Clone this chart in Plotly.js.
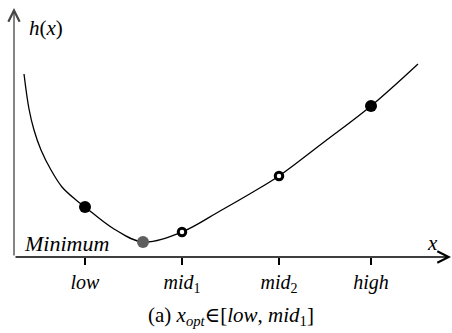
<!DOCTYPE html>
<html>
<head>
<meta charset="utf-8">
<script src="https://cdn.plot.ly/plotly-3.0.1.min.js"></script>
<style>
  html, body { margin: 0; padding: 0; background: #fff; }
  #chart { width: 452px; height: 333px; }
</style>
</head>
<body>
<div id="chart"></div>
<script>
// h(x) curve, sampled along its length (x, h)
const curveX = [10, 15, 20, 27, 37, 48, 62, 71, 100, 129, 168, 206, 239, 265, 310, 357, 404];
const curveY = [183, 148, 127, 107, 87, 70, 57, 50, 28, 15, 25, 46, 65, 81, 115, 151, 193];

// evaluated points on the curve
const solidX = [71, 357];          // low, high
const solidY = [50, 151];
const openX = [168, 265];          // mid1, mid2
const openY = [25, 81];
const minX = [129];                // minimum
const minY = [15];

// x-axis ticks
const tickVals = [71, 168, 265, 357];
const tickText = ['<i>low</i>', '<i>mid</i><sub>1</sub>', '<i>mid</i><sub>2</sub>', '<i>high</i>'];

const serif = "'Liberation Serif', 'DejaVu Serif', serif";

const traces = [
  {
    x: curveX, y: curveY, mode: 'lines', type: 'scatter',
    line: { color: '#000', width: 1.3, shape: 'spline', smoothing: 1 },
    hoverinfo: 'skip'
  },
  {
    x: solidX, y: solidY, mode: 'markers', type: 'scatter',
    marker: { color: '#000', size: 12 }
  },
  {
    x: minX, y: minY, mode: 'markers', type: 'scatter',
    marker: { color: '#5e5e5e', size: 12 }
  },
  {
    x: openX, y: openY, mode: 'markers', type: 'scatter',
    marker: { color: '#fff', size: 7.5, line: { color: '#000', width: 3 } }
  }
];

const layout = {
  width: 452, height: 333,
  margin: { l: 14, r: 0, t: 8, b: 76 },
  paper_bgcolor: '#fff', plot_bgcolor: '#fff',
  showlegend: false,
  font: { family: serif, size: 20, color: '#000' },
  xaxis: {
    range: [0, 438], showgrid: false, zeroline: false, showline: false,
    tickmode: 'array', tickvals: tickVals, ticktext: tickText,
    ticks: 'outside', ticklen: 7, tickwidth: 1.3, tickcolor: '#000',
    tickfont: { family: serif, size: 20, color: '#000' },
    fixedrange: true
  },
  yaxis: {
    range: [0, 249], showgrid: false, zeroline: false, showline: false,
    showticklabels: false, ticks: '', fixedrange: true
  },
  annotations: [
    // x axis with arrow
    { x: 437, y: 0, ax: 0, ay: 0, xref: 'x', yref: 'y', axref: 'x', ayref: 'y',
      text: '', showarrow: true, arrowhead: 5, arrowsize: 1.7, arrowwidth: 1.3, arrowcolor: '#000' },
    // y axis with arrow
    { x: 0, y: 249, ax: 0, ay: 0, xref: 'x', yref: 'y', axref: 'x', ayref: 'y',
      text: '', showarrow: true, arrowhead: 5, arrowsize: 1.7, arrowwidth: 1.3, arrowcolor: '#444' },
    { x: 13, y: 229, xref: 'x', yref: 'y', xanchor: 'left', yanchor: 'middle',
      text: '<i>h</i>(<i>x</i>)', showarrow: false, font: { family: serif, size: 21, color: '#000' } },
    { x: 418, y: 14, xref: 'x', yref: 'y', xanchor: 'center', yanchor: 'middle',
      text: '<i>x</i>', showarrow: false, font: { family: serif, size: 21, color: '#000' } },
    { x: 8, y: 14, xref: 'x', yref: 'y', xanchor: 'left', yanchor: 'middle',
      text: '<i>Minimum</i>', showarrow: false, font: { family: serif, size: 22, color: '#000' } },
    { x: 217, y: -0.235, xref: 'x', yref: 'paper', xanchor: 'center', yanchor: 'middle',
      text: '(a) <i>x</i><sub><i>opt</i></sub>∈[<i>low</i>, <i>mid</i><sub>1</sub>]',
      showarrow: false, font: { family: serif, size: 21, color: '#000' } }
  ]
};

Plotly.newPlot('chart', traces, layout, { staticPlot: true, displayModeBar: false });
</script>
</body>
</html>
